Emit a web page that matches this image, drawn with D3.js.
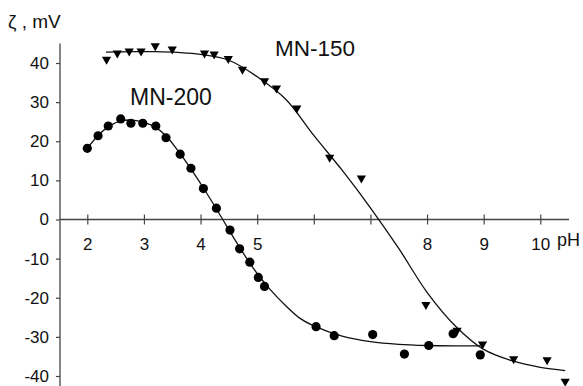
<!DOCTYPE html>
<html>
<head>
<meta charset="utf-8">
<script src="https://cdn.jsdelivr.net/npm/d3@7"></script>
<style>
  body { margin: 0; background: #fff; }
  svg { display: block; font-family: 'Liberation Sans', Arial, sans-serif; }
</style>
</head>
<body>
<div id="chart"></div>
<script>
// Zeta potential vs pH for MN-200 (circles) and MN-150 (triangles)

const xTicks = [2, 3, 4, 5, 6, 7, 8, 9, 10];
const yTicks = [-40, -30, -20, -10, 0, 10, 20, 30, 40];

// MN-200 measured points
const mn200PH = [2.00, 2.19, 2.37, 2.59, 2.77, 2.98, 3.21, 3.39, 3.64, 3.83, 4.05, 4.28, 4.52, 4.69, 4.87, 5.02, 5.13, 6.04, 6.36, 7.04, 7.60, 8.03, 8.46, 8.94];
const mn200Zeta = [18.2, 21.4, 23.9, 25.7, 24.6, 24.6, 23.9, 20.9, 16.7, 13.1, 7.9, 2.9, -2.7, -7.5, -10.9, -14.8, -17.1, -27.4, -29.7, -29.4, -34.4, -32.2, -29.2, -34.6];

// MN-150 measured points
const mn150PH = [2.34, 2.53, 2.74, 2.95, 3.20, 3.50, 4.07, 4.24, 4.49, 4.74, 5.13, 5.34, 5.70, 6.28, 6.84, 7.98, 8.53, 8.98, 9.53, 10.12, 10.44];
const mn150Zeta = [40.7, 42.3, 42.8, 42.8, 44.1, 43.3, 42.3, 42.0, 40.9, 38.1, 35.2, 33.3, 28.2, 15.6, 10.3, -22.0, -28.6, -32.1, -35.9, -36.1, -41.6];

// fitted curves
const fit200PH = [2.0, 2.2, 2.4, 2.6, 2.8, 3.0, 3.2, 3.4, 3.6, 3.8, 4.0, 4.2, 4.4, 4.6, 4.8, 5.0, 5.2, 5.5, 5.75, 6.0, 6.5, 7.0, 7.5, 8.0, 8.5, 8.94];
const fit200Zeta = [18.2, 21.6, 24.0, 25.2, 25.4, 24.8, 23.6, 21.2, 17.6, 13.6, 9.2, 4.6, -0.2, -5.0, -9.6, -13.8, -17.4, -22.0, -25.2, -27.2, -29.8, -31.2, -31.9, -32.2, -32.3, -32.3];
const fit150PH = [2.33, 2.8, 3.2, 3.6, 4.0, 4.5, 5.0, 5.5, 6.0, 6.5, 7.0, 7.5, 8.0, 8.5, 9.0, 9.5, 10.0, 10.44];
const fit150Zeta = [42.8, 42.9, 42.9, 42.7, 42.2, 40.7, 36.5, 30.8, 21.5, 12.6, 3.0, -7.4, -18.6, -27.2, -33.2, -36.1, -37.8, -38.6];

const W = 583, H = 386;
const svg = d3.select('#chart').append('svg').attr('width', W).attr('height', H);

const x = d3.scaleLinear().domain([2, 10]).range([87.3, 540.3]);
const y = d3.scaleLinear().domain([-40, 40]).range([376, 63]);
const axisX = 60;
const fmt = (d) => String(d); // plain hyphen for negatives

// Y axis
svg.append('line')
  .attr('x1', axisX).attr('x2', axisX)
  .attr('y1', y(45)).attr('y2', H)
  .attr('stroke', '#444').attr('stroke-width', 1.3);
const gy = svg.append('g')
  .attr('transform', `translate(${axisX},0)`)
  .call(d3.axisLeft(y).tickValues(yTicks).tickFormat(fmt).tickSize(4).tickPadding(7));
gy.select('.domain').remove();
gy.selectAll('line').attr('stroke', '#444').attr('stroke-width', 1.2);
gy.selectAll('text').attr('font-size', 17).attr('fill', '#111')
  .attr('font-family', "'Liberation Sans', Arial, sans-serif");

// X axis through zero
svg.append('line')
  .attr('x1', axisX).attr('x2', 569)
  .attr('y1', y(0)).attr('y2', y(0))
  .attr('stroke', '#444').attr('stroke-width', 1.3);
const gx = svg.append('g')
  .attr('transform', `translate(0,${y(0)})`)
  .call(d3.axisBottom(x).tickValues(xTicks).tickFormat(fmt).tickSize(5).tickPadding(13));
gx.select('.domain').remove();
gx.selectAll('line').attr('y1', -5).attr('y2', 5).attr('stroke', '#444').attr('stroke-width', 1.2);
gx.selectAll('text').attr('font-size', 17).attr('fill', '#111')
  .attr('font-family', "'Liberation Sans', Arial, sans-serif")
  .filter((d) => d === 6 || d === 7).remove();

// axis titles
svg.append('text').attr('x', 557).attr('y', 246).attr('font-size', 18).attr('fill', '#111').text('pH');
svg.append('text').attr('x', 8).attr('y', 28).attr('font-size', 19).attr('fill', '#111')
  .attr('xml:space', 'preserve').text('ζ , mV');

// fitted lines
const line = d3.line().x((d) => x(d[0])).y((d) => y(d[1])).curve(d3.curveCatmullRom.alpha(0.5));
svg.append('path')
  .attr('d', line(d3.zip(fit200PH, fit200Zeta)))
  .attr('fill', 'none').attr('stroke', '#111').attr('stroke-width', 1.3);
svg.append('path')
  .attr('d', line(d3.zip(fit150PH, fit150Zeta)))
  .attr('fill', 'none').attr('stroke', '#111').attr('stroke-width', 1.3);

// circles
svg.selectAll('.c200')
  .data(d3.zip(mn200PH, mn200Zeta))
  .enter()
  .append('circle')
  .attr('class', 'c200')
  .attr('cx', (d) => x(d[0]))
  .attr('cy', (d) => y(d[1]))
  .attr('r', 4.6)
  .attr('fill', '#000');

// down triangles
svg.selectAll('.t150')
  .data(d3.zip(mn150PH, mn150Zeta))
  .enter()
  .append('path')
  .attr('class', 't150')
  .attr('transform', (d) => `translate(${x(d[0])},${y(d[1])})`)
  .attr('d', 'M-4.6,-3.6L4.6,-3.6L0,4.4Z')
  .attr('fill', '#000');

// series labels
svg.append('text').attr('x', 130).attr('y', 105).attr('font-size', 23).attr('fill', '#111').text('MN-200');
svg.append('text').attr('x', 275).attr('y', 56).attr('font-size', 22.5).attr('fill', '#111').text('MN-150');
</script>
</body>
</html>
